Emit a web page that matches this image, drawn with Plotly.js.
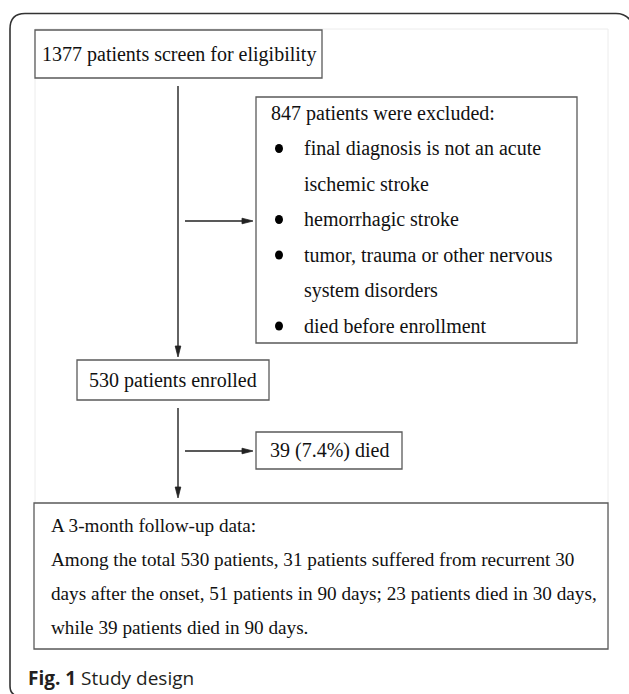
<!DOCTYPE html>
<html><head><meta charset="utf-8">
<script src="https://cdn.plot.ly/plotly-3.0.1.min.js"></script>
<style>html,body{margin:0;padding:0;background:#fff;overflow:hidden}</style>
</head><body><div id="chart" style="width:629px;height:694px"></div>
<script>
// ---------- content ----------
const screenLabel = "1377 patients screen for eligibility";
const excludedHeader = "847 patients were excluded:";
const excludedReasons = [
  ["final diagnosis is not an acute", "ischemic stroke"],
  ["hemorrhagic stroke"],
  ["tumor, trauma or other nervous", "system disorders"],
  ["died before enrollment"]
];
const enrolledLabel = "530 patients enrolled";
const diedLabel = "39 (7.4%) died";
const followupLines = [
  "A 3-month follow-up data:",
  "Among the total 530 patients, 31 patients suffered from recurrent 30",
  "days after the onset, 51 patients in 90 days; 23 patients died in 30 days,",
  "while 39 patients died in 90 days."
];
const captionBold = "Fig. 1";
const captionText = "Study design";

// ---------- geometry (figure pixel coordinates) ----------
const W = 629, H = 694;
const boxes = {
  screen:   {x0: 35,  y0: 30,  x1: 322, y1: 78},
  excl:     {x0: 256, y0: 97,  x1: 577, y1: 343},
  enrolled: {x0: 77,  y0: 360, x1: 269, y1: 400},
  died:     {x0: 256, y0: 432, x1: 402, y1: 469},
  follow:   {x0: 34,  y0: 503, x1: 608, y1: 649}
};
const connectors = [
  {x0: 178, y0: 86,  x1: 178, y1: 357},
  {x0: 185, y0: 221, x1: 253, y1: 221},
  {x0: 178, y0: 408, x1: 178, y1: 498},
  {x0: 185, y0: 451, x1: 253, y1: 451}
];
const exclTop = 113, exclStep = 35.5, exclTextX = 270, bulletX = 279, reasonX = 303;
const followX = 50, followTop = 525, followStep = 34, followSize = 19.2;

const serif = "Liberation Serif, Times New Roman, serif";
const txt = "#111111";
const shapes = [];
const ann = [];

// outer frame
shapes.push({type: "path", xref: "x", yref: "y", layer: "below",
  path: "M 17,696 Q 10,694 10,686 L 10,29 Q 10,13.5 25,13.5 L 616,13.5 Q 627,13.5 632,23",
  line: {color: "#333333", width: 1.6}});
// faint image panel
shapes.push({type: "rect", xref: "x", yref: "y", layer: "below",
  x0: 35, y0: 29, x1: 608, y1: 649, line: {color: "#ececec", width: 1}});

Object.values(boxes).forEach(b => {
  shapes.push({type: "rect", xref: "x", yref: "y", x0: b.x0, y0: b.y0, x1: b.x1, y1: b.y1,
    fillcolor: "#ffffff", line: {color: "#5a5a5a", width: 1.3}});
});

// connectors with arrowheads
connectors.forEach(c => {
  const dx = c.x1 - c.x0, dy = c.y1 - c.y0, L = Math.hypot(dx, dy);
  const ux = dx / L, uy = dy / L, hl = 11, hw = 2.8;
  const bx = c.x1 - ux * hl, by = c.y1 - uy * hl;
  shapes.push({type: "line", xref: "x", yref: "y", x0: c.x0, y0: c.y0, x1: bx + ux * 2, y1: by + uy * 2,
    line: {color: "#222222", width: 1.4}});
  const p1x = bx - uy * hw, p1y = by + ux * hw, p2x = bx + uy * hw, p2y = by - ux * hw;
  shapes.push({type: "path", xref: "x", yref: "y",
    path: `M ${c.x1},${c.y1} L ${p1x},${p1y} L ${p2x},${p2y} Z`,
    fillcolor: "#222222", line: {color: "#222222", width: 0.8}});
});

function label(x, y, text, anchor, size, fam, color) {
  ann.push({x: x, y: y, xref: "x", yref: "y", text: text, showarrow: false,
    xanchor: anchor || "left", yanchor: "middle", borderpad: 0,
    font: {family: fam || serif, size: size || 20, color: color || txt}});
}

const bs = boxes.screen;
label((bs.x0 + bs.x1) / 2, (bs.y0 + bs.y1) / 2, screenLabel, "center");
label(exclTextX, exclTop, excludedHeader);
let row = 1;
excludedReasons.forEach(r => {
  const yc = exclTop + row * exclStep;
  shapes.push({type: "circle", xref: "x", yref: "y", x0: bulletX - 4, x1: bulletX + 4,
    y0: yc - 4.5, y1: yc + 4.5, fillcolor: "#000000", line: {width: 0}});
  r.forEach(line => { label(reasonX, exclTop + row * exclStep, line); row++; });
});
const be = boxes.enrolled;
label((be.x0 + be.x1) / 2, (be.y0 + be.y1) / 2, enrolledLabel, "center");
const bd = boxes.died;
label((bd.x0 + bd.x1) / 2, (bd.y0 + bd.y1) / 2, diedLabel, "center");
followupLines.forEach((t, i) => label(followX, followTop + i * followStep, t, "left", followSize));

ann.push({x: 26, y: 678, xref: "x", yref: "y", showarrow: false, xanchor: "left", yanchor: "middle",
  text: `<b>${captionBold}</b> ${captionText}`,
  font: {family: "Open Sans, Noto Sans, sans-serif", size: 19, color: "#231f20"}});

Plotly.newPlot("chart", [], {
  width: W, height: H, margin: {l: 0, r: 0, t: 0, b: 0},
  paper_bgcolor: "#ffffff", plot_bgcolor: "#ffffff", showlegend: false,
  xaxis: {range: [0, W], visible: false, fixedrange: true},
  yaxis: {range: [H, 0], visible: false, fixedrange: true},
  shapes: shapes, annotations: ann
}, {displayModeBar: false, staticPlot: true});
</script>
</body></html>
